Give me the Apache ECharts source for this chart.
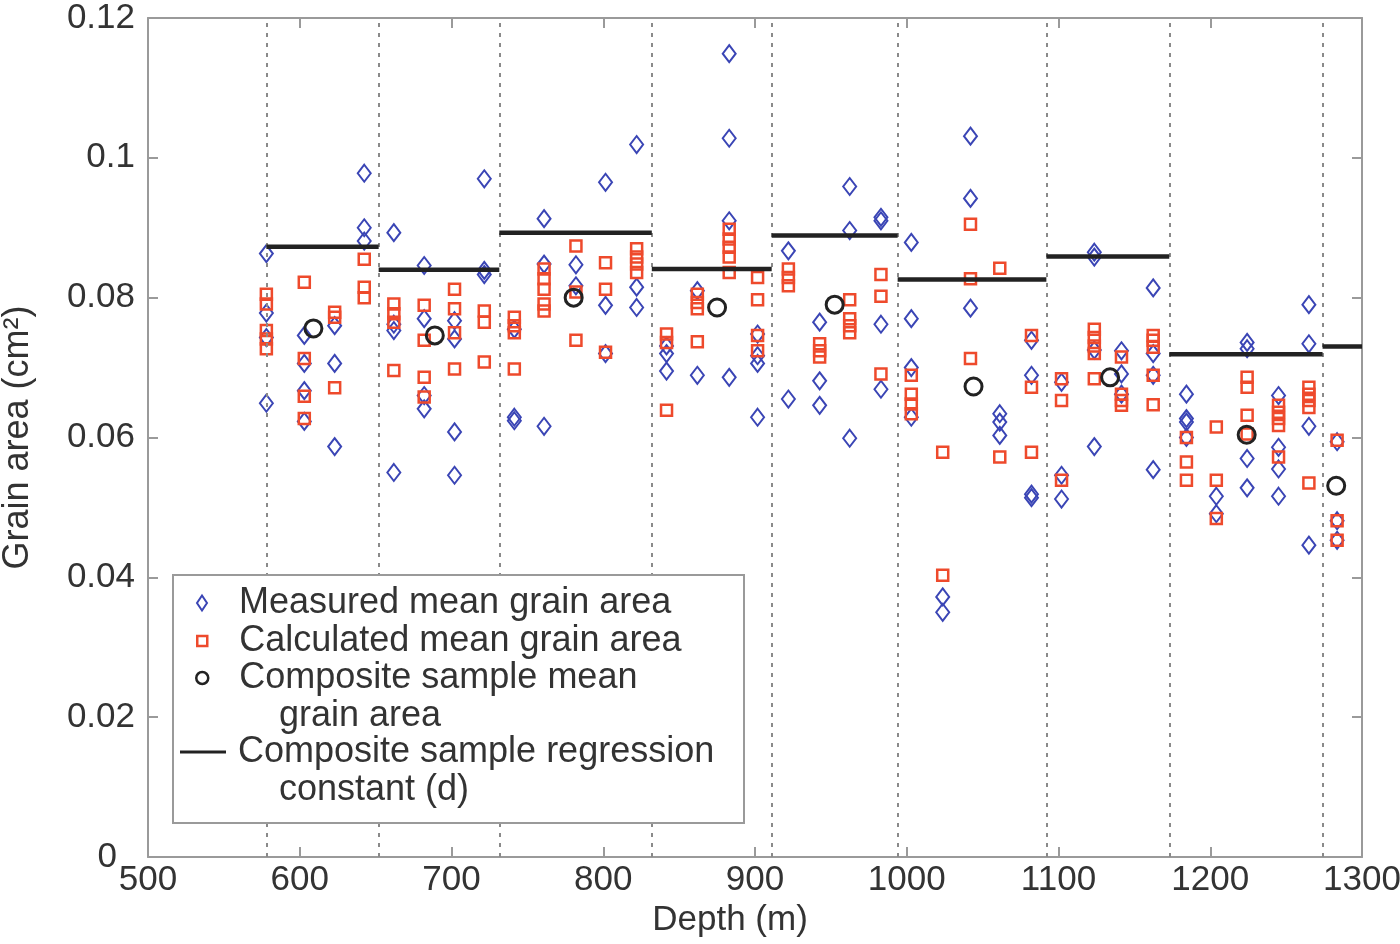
<!DOCTYPE html>
<html>
<head>
<meta charset="utf-8">
<script src="https://cdn.jsdelivr.net/npm/echarts@6/dist/echarts.min.js"></script>
<style>
html,body{margin:0;padding:0;background:#fff;}
#chart{width:1400px;height:944px;}
</style>
</head>
<body>
<div id="chart"></div>
<script>
// Measured mean grain area [depth m, area cm^2]
const measured = [
  [578,0.0863],[578,0.0778],[578,0.0743],[578,0.0649],
  [603,0.0746],[603,0.0706],[603,0.0667],[603,0.0623],
  [623,0.0760],[623,0.0706],[623,0.0587],
  [642.5,0.0978],[642.5,0.0900],[642.5,0.0881],
  [662,0.0893],[662,0.0762],[662,0.0753],[662,0.0550],
  [682,0.0846],[682,0.0770],[682,0.0660],[682,0.0641],
  [702,0.0767],[702,0.0741],[702,0.0608],[702,0.0546],
  [721.6,0.0970],[721.6,0.0839],[721.6,0.0833],
  [741.4,0.0755],[741.4,0.0629],[741.4,0.0624],
  [761,0.0913],[761,0.0848],[761,0.0616],
  [782,0.0847],[782,0.0817],
  [801.5,0.0965],[801.5,0.0789],[801.5,0.0720],
  [822,0.1019],[822,0.0815],[822,0.0786],
  [841.7,0.0731],[841.7,0.0720],[841.7,0.0695],
  [862,0.0810],[862,0.0689],
  [883,0.1149],[883,0.1028],[883,0.0910],[883,0.0686],
  [901.7,0.0748],[901.7,0.0717],[901.7,0.0706],[901.7,0.0629],
  [922,0.0867],[922,0.0655],
  [942.6,0.0765],[942.6,0.0681],[942.6,0.0646],
  [962.4,0.0959],[962.4,0.0896],[962.4,0.0599],
  [983,0.0915],[983,0.0910],[983,0.0762],[983,0.0669],
  [1003,0.0879],[1003,0.0770],[1003,0.0700],[1003,0.0629],
  [1023.7,0.0372],[1023.7,0.0350],
  [1042,0.1031],[1042,0.0942],[1042,0.0785],
  [1061.3,0.0634],[1061.3,0.0622],[1061.3,0.0603],
  [1082.2,0.0739],[1082.2,0.0689],[1082.2,0.0519],[1082.2,0.0514],
  [1102,0.0679],[1102,0.0546],[1102,0.0512],
  [1123.6,0.0865],[1123.6,0.0858],[1123.6,0.0725],[1123.6,0.0587],
  [1141.5,0.0724],[1141.5,0.0691],[1141.5,0.0662],
  [1162.4,0.0814],[1162.4,0.0720],[1162.4,0.0689],[1162.4,0.0554],
  [1184.3,0.0662],[1184.3,0.0627],[1184.3,0.0622],[1184.3,0.0600],
  [1204,0.0516],[1204,0.0491],
  [1224.3,0.0736],[1224.3,0.0727],[1224.3,0.0570],[1224.3,0.0528],
  [1245,0.0660],[1245,0.0586],[1245,0.0555],[1245,0.0516],
  [1265,0.0790],[1265,0.0734],[1265,0.0616],[1265,0.0446],
  [1283.6,0.0594],[1283.6,0.0481],[1283.6,0.0453]
];

// Calculated mean grain area [depth m, area cm^2]
const calculated = [
  [578,0.0805],[578,0.0791],[578,0.0753],[578,0.0741],[578,0.0727],
  [603,0.0822],[603,0.0713],[603,0.0659],[603,0.0627],
  [623,0.0779],[623,0.0772],[623,0.0671],
  [642.5,0.0855],[642.5,0.0815],[642.5,0.0800],
  [662,0.0791],[662,0.0777],[662,0.0765],[662,0.0696],
  [682,0.0789],[682,0.0739],[682,0.0686],[682,0.0658],
  [702,0.0812],[702,0.0784],[702,0.0750],[702,0.0698],
  [721.6,0.0781],[721.6,0.0765],[721.6,0.0708],
  [741.4,0.0772],[741.4,0.0760],[741.4,0.0750],[741.4,0.0698],
  [761,0.0841],[761,0.0827],[761,0.0812],[761,0.0791],[761,0.0781],
  [782,0.0874],[782,0.0808],[782,0.0739],
  [801.5,0.0850],[801.5,0.0812],[801.5,0.0722],
  [822,0.0870],[822,0.0858],[822,0.0848],[822,0.0836],
  [841.7,0.0748],[841.7,0.0736],[841.7,0.0639],
  [862,0.0805],[862,0.0793],[862,0.0784],[862,0.0737],
  [883,0.0898],[883,0.0884],[883,0.0872],[883,0.0858],[883,0.0836],
  [901.7,0.0829],[901.7,0.0797],[901.7,0.0746],[901.7,0.0724],
  [922,0.0841],[922,0.0829],[922,0.0817],
  [942.6,0.0734],[942.6,0.0724],[942.6,0.0715],
  [962.4,0.0797],[962.4,0.0770],[962.4,0.0760],[962.4,0.0750],
  [983,0.0833],[983,0.0802],[983,0.0691],
  [1003,0.0689],[1003,0.0662],[1003,0.0648],[1003,0.0634],
  [1023.7,0.0579],[1023.7,0.0403],
  [1042,0.0905],[1042,0.0827],[1042,0.0713],
  [1061.3,0.0842],[1061.3,0.0572],
  [1082.2,0.0746],[1082.2,0.0672],[1082.2,0.0579],
  [1102,0.0684],[1102,0.0653],[1102,0.0539],
  [1123.6,0.0755],[1123.6,0.0743],[1123.6,0.0731],[1123.6,0.0720],[1123.6,0.0684],
  [1141.5,0.0715],[1141.5,0.0662],[1141.5,0.0653],[1141.5,0.0646],
  [1162.4,0.0746],[1162.4,0.0739],[1162.4,0.0729],[1162.4,0.0689],[1162.4,0.0647],
  [1184.3,0.0600],[1184.3,0.0565],[1184.3,0.0539],
  [1204,0.0615],[1204,0.0539],[1204,0.0484],
  [1224.3,0.0686],[1224.3,0.0672],[1224.3,0.0632],[1224.3,0.0605],
  [1245,0.0646],[1245,0.0636],[1245,0.0627],[1245,0.0617],[1245,0.0572],
  [1265,0.0672],[1265,0.0662],[1265,0.0653],[1265,0.0643],[1265,0.0535],
  [1283.6,0.0596],[1283.6,0.0481],[1283.6,0.0453]
];

// Composite sample mean grain area
const compositeMean = [
  [609,0.0756],[689,0.0746],[780.5,0.0800],[875,0.0786],[952.5,0.0790],
  [1044,0.0673],[1134,0.0686],[1224,0.0604],[1283,0.0531]
];

// Composite sample boundaries (depth) and regression constants d
const boundaries = [578, 652, 731.5, 832, 911, 994, 1092, 1173, 1274, 1300];
const regressionD = [0.0873, 0.0840, 0.0893, 0.0841, 0.0889, 0.0826, 0.0859, 0.0719, 0.0730];

// Axis ticks
const xTicks = [500, 600, 700, 800, 900, 1000, 1100, 1200, 1300];
const yTicks = [0, 0.02, 0.04, 0.06, 0.08, 0.1, 0.12];

const BLUE = '#3a45b5';
const RED = '#ee4a2c';
const DARK = '#222222';
const AXIS = '#9a9a9a';
const TXT = '#333333';
const FONT = '"Liberation Sans", Arial, Helvetica, sans-serif';

const nameMeasured = 'Measured mean grain area';
const nameCalc = 'Calculated mean grain area';
const nameMean = 'Composite sample mean grain area';
const nameReg = 'Composite sample regression constant (d)';

const regSeries = regressionD.map(function (d, i) {
  return {
    name: nameReg,
    type: 'line',
    symbol: 'none',
    silent: true,
    z: 6,
    lineStyle: { color: DARK, width: 4.5 },
    itemStyle: { color: DARK },
    data: [[boundaries[i], d], [boundaries[i + 1], d]]
  };
});

const legendCommon = {
  orient: 'vertical',
  padding: 0,
  selectedMode: false,
  z: 60,
  symbolKeepAspect: false,
  textStyle: { fontSize: 36, fontFamily: FONT, color: TXT, lineHeight: 36 }
};

const chart = echarts.init(document.getElementById('chart'), null, { renderer: 'canvas' });
chart.setOption({
  animation: false,
  backgroundColor: '#ffffff',
  grid: { left: 148, right: 38, top: 18, bottom: 87, containLabel: false, outerBoundsMode: 'none' },
  xAxis: [{
    type: 'value', min: xTicks[0], max: xTicks[xTicks.length - 1], interval: 100,
    position: 'bottom',
    name: 'Depth (m)', nameLocation: 'middle', nameGap: 44,
    nameTextStyle: { fontSize: 35, fontFamily: FONT, color: TXT, padding: [0, 50, 0, 0] },
    axisLine: { onZero: false, lineStyle: { color: AXIS, width: 2 } },
    axisTick: { inside: true, length: 10, lineStyle: { color: AXIS, width: 2 } },
    axisLabel: { fontSize: 35, fontFamily: FONT, color: TXT, margin: 6,
      formatter: function (v) { return String(v); } },
    splitLine: { show: false }
  }, {
    type: 'value', min: xTicks[0], max: xTicks[xTicks.length - 1], interval: 100,
    position: 'top',
    axisLine: { onZero: false, lineStyle: { color: AXIS, width: 2 } },
    axisTick: { inside: true, length: 10, lineStyle: { color: AXIS, width: 2 } },
    axisLabel: { show: false },
    splitLine: { show: false }
  }],
  yAxis: [{
    type: 'value', min: yTicks[0], max: yTicks[yTicks.length - 1], interval: 0.02,
    position: 'left',
    name: 'Grain area (cm\u00B2)', nameLocation: 'middle', nameGap: 112,
    nameTextStyle: { fontSize: 36, fontFamily: FONT, color: TXT },
    axisLine: { onZero: false, lineStyle: { color: AXIS, width: 2 } },
    axisTick: { inside: true, length: 10, lineStyle: { color: AXIS, width: 2 } },
    axisLabel: { fontSize: 35, fontFamily: FONT, color: TXT, margin: 13,
      formatter: function (v) { return v === 0 ? '{z|0}' : String(v); },
      rich: { z: { fontSize: 35, fontFamily: FONT, color: TXT, padding: [0, 18, 0, 0] } } },
    splitLine: { show: false }
  }, {
    type: 'value', min: yTicks[0], max: yTicks[yTicks.length - 1], interval: 0.02,
    position: 'right',
    axisLine: { onZero: false, lineStyle: { color: AXIS, width: 2 } },
    axisTick: { inside: true, length: 10, lineStyle: { color: AXIS, width: 2 } },
    axisLabel: { show: false },
    splitLine: { show: false }
  }],
  legend: [
    Object.assign({}, legendCommon, {
      data: [nameMeasured], left: 196, top: 585, itemWidth: 10, itemHeight: 15,
      itemStyle: { color: 'transparent', borderColor: BLUE, borderWidth: 2 },
      textStyle: Object.assign({}, legendCommon.textStyle, { padding: [0, 0, 0, 27] })
    }),
    Object.assign({}, legendCommon, {
      data: [nameCalc], left: 196, top: 623, itemWidth: 10, itemHeight: 10,
      itemStyle: { color: 'transparent', borderColor: RED, borderWidth: 2.5 },
      textStyle: Object.assign({}, legendCommon.textStyle, { padding: [0, 0, 0, 27] })
    }),
    Object.assign({}, legendCommon, {
      data: [nameMean], left: 195, top: 660, itemWidth: 12, itemHeight: 12,
      itemStyle: { color: 'transparent', borderColor: DARK, borderWidth: 2.5 },
      formatter: function () { return 'Composite sample mean'; },
      textStyle: Object.assign({}, legendCommon.textStyle, { padding: [0, 0, 0, 26] })
    }),
    Object.assign({}, legendCommon, {
      data: [{ name: nameReg, icon: 'rect' }], left: 180, top: 734, itemWidth: 46, itemHeight: 3,
      itemStyle: { color: DARK, borderWidth: 0 },
      formatter: function () { return 'Composite sample regression'; },
      textStyle: Object.assign({}, legendCommon.textStyle, { padding: [0, 0, 0, 7] })
    })
  ],
  graphic: [
    {
      type: 'rect', z: 50, silent: true,
      shape: { x: 173, y: 575, width: 571, height: 248 },
      style: { fill: '#ffffff', stroke: AXIS, lineWidth: 2 }
    },
    {
      type: 'text', z: 61, silent: true, x: 279, y: 716,
      style: { text: 'grain area', font: '36px ' + FONT, fill: TXT, verticalAlign: 'middle' }
    },
    {
      type: 'text', z: 61, silent: true, x: 279, y: 790,
      style: { text: 'constant (d)', font: '36px ' + FONT, fill: TXT, verticalAlign: 'middle' }
    }
  ],
  series: [
    {
      name: nameMeasured,
      type: 'scatter',
      symbol: 'diamond',
      symbolSize: [13, 17],
      z: 3,
      itemStyle: { color: 'transparent', borderColor: BLUE, borderWidth: 2, opacity: 1 },
      data: measured,
      markLine: {
        silent: true,
        symbol: 'none',
        label: { show: false },
        lineStyle: { color: '#8a8a8a', type: [4, 6], width: 2 },
        data: boundaries.slice(0, boundaries.length - 1).map(function (b) { return { xAxis: b }; })
      }
    },
    {
      name: nameCalc,
      type: 'scatter',
      symbol: 'rect',
      symbolSize: 11,
      z: 4,
      itemStyle: { color: 'transparent', borderColor: RED, borderWidth: 2.5, opacity: 1 },
      data: calculated
    },
    {
      name: nameMean,
      type: 'scatter',
      symbol: 'circle',
      symbolSize: 17,
      z: 5,
      itemStyle: { color: 'transparent', borderColor: DARK, borderWidth: 3, opacity: 1 },
      data: compositeMean
    }
  ].concat(regSeries)
});
</script>
</body>
</html>
